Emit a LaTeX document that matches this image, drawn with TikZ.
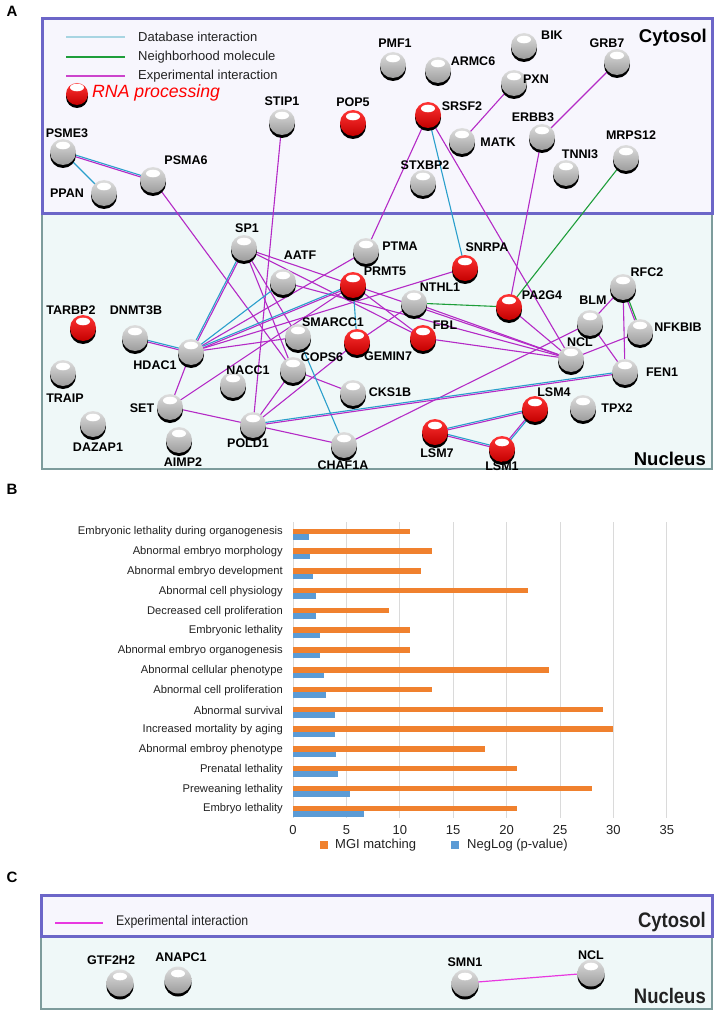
\documentclass[tikz,border=0pt]{standalone}
\usepackage{fontspec}
\setmainfont{Liberation Sans}
\newfontfamily\narrowfont[FakeStretch=0.88]{Liberation Sans}
\usetikzlibrary{shadows,calc,shapes.geometric}
\pgfdeclarelayer{bg}
\pgfdeclarelayer{edges}
\pgfsetlayers{bg,edges,main}
\definecolor{mag}{HTML}{B42AC6}
\definecolor{magL}{HTML}{CC44CC}
\definecolor{magC}{HTML}{E838E0}
\definecolor{dbc}{HTML}{2A9FCC}
\definecolor{dbL}{HTML}{A8D5E2}
\definecolor{grn}{HTML}{1E9E3A}
\definecolor{cytF}{HTML}{F7F6FD}
\definecolor{cytB}{HTML}{6C66C8}
\definecolor{nucF}{HTML}{EFF8F8}
\definecolor{nucB}{HTML}{7D9C9C}
\definecolor{gT}{HTML}{DEDEDE}
\definecolor{gB}{HTML}{9C9C9C}
\definecolor{rT}{HTML}{FF3434}
\definecolor{rB}{HTML}{C40000}
\definecolor{orb}{HTML}{F0812E}
\definecolor{blb}{HTML}{5B9BD5}
\definecolor{grd}{HTML}{DADADA}
\definecolor{txt}{HTML}{222222}
\newcommand\myfs[1]{\fontsize{#1}{#1}\selectfont}
\newcommand\dedge[4]{%
 \draw[#3] ($(#1.center)!0.8pt!90:(#2.center)$) -- ($(#2.center)!0.8pt!-90:(#1.center)$);
 \draw[#4] ($(#1.center)!0.8pt!-90:(#2.center)$) -- ($(#2.center)!0.8pt!90:(#1.center)$);}
\newcommand\pn[6]{\node[#1] (#2) at (#3,#4) {}; \node[lab] (#2-l) at (#5,#6) {#2};}
\tikzset{
 sphbase/.style={inner sep=0pt, drop shadow={shadow xshift=0pt, shadow yshift=-3pt, fill=black, opacity=1}},
 gs/.style={circle, sphbase, minimum size=26pt, top color=gT, bottom color=gB,
   path picture={\fill[white] ([yshift=6.5pt]path picture bounding box.center) ellipse (7pt and 3.8pt);}},
 rs/.style={circle, sphbase, minimum size=26pt, top color=rT, bottom color=rB,
   path picture={\fill[white] ([yshift=6.5pt]path picture bounding box.center) ellipse (7pt and 3.8pt);}},
 gsc/.style={gs, minimum size=27pt},
 lab/.style={font=\myfs{12.5}\bfseries, inner sep=0pt},
 ex/.style={draw=mag, line width=1.1pt},
 db/.style={draw=dbc, line width=1.1pt},
 nb/.style={draw=grn, line width=1.1pt},
 blab/.style={font=\myfs{11.2}, text=txt, inner sep=0pt, anchor=east},
 tick/.style={font=\myfs{13}, text=txt, inner sep=0pt},
 ptitle/.style={font=\myfs{15}\bfseries, inner sep=0pt},
}
\begin{document}
\begin{tikzpicture}[x=1pt,y=-1pt]
\useasboundingbox (0,0) rectangle (718,1011);
\begin{pgfonlayer}{bg}
\fill[white] (0,0) rectangle (718,1011);
\draw[nucB, line width=2.5pt, fill=nucF] (42,214) rectangle (712,469);
\draw[cytB, line width=3pt, fill=cytF] (42,19) rectangle (712,213);
\draw[nucB, line width=2.5pt, fill=nucF] (41,937) rectangle (712,1009);
\draw[cytB, line width=3pt, fill=cytF] (41,895) rectangle (712,936);
\end{pgfonlayer}

% ---------- Panel A ----------
\node[ptitle] (pA) at (12,11) {A};
\node[font=\myfs{18.5}\bfseries, inner sep=0pt, anchor=east] (cyt) at (707,38) {Cytosol};
\node[font=\myfs{18.5}\bfseries, inner sep=0pt, anchor=east] (nuc) at (706,459) {Nucleus};

% legend
\coordinate (lg1a) at (66,37); \coordinate (lg1b) at (125,37);
\coordinate (lg2a) at (66,57); \coordinate (lg2b) at (125,57);
\coordinate (lg3a) at (66,76); \coordinate (lg3b) at (125,76);
\draw[dbL, line width=1.3pt] (lg1a) -- (lg1b);
\draw[grn, line width=1.3pt] (lg2a) -- (lg2b);
\draw[magL, line width=1.3pt] (lg3a) -- (lg3b);
\node[font=\myfs{13}, text=txt, inner sep=0pt, anchor=west] (lgt1) at (138,37) {Database interaction};
\node[font=\myfs{13}, text=txt, inner sep=0pt, anchor=west] (lgt2) at (138,57) {Neighborhood molecule};
\node[font=\myfs{13}, text=txt, inner sep=0pt, anchor=west] (lgt3) at (138,76) {Experimental interaction};
\node[rs, minimum size=22pt] (lgs) at (77,94) {};
\node[font=\myfs{17.7}\itshape, text=red, inner sep=0pt, anchor=west] (lgt4) at (92,93) {RNA processing};

% cytosol nodes
\pn{gs}{PSME3}{63}{152}{67}{133}
\pn{gs}{PPAN}{104}{193}{67}{193}
\pn{gs}{PSMA6}{153}{180}{186}{160}
\pn{gs}{STIP1}{282}{122}{282}{101}
\pn{rs}{POP5}{353}{123}{353}{102}
\pn{rs}{SRSF2}{428}{115}{462}{106}
\pn{gs}{PMF1}{393}{65}{395}{43}
\pn{gs}{ARMC6}{438}{70}{473}{61}
\pn{gs}{BIK}{524}{46}{552}{35}
\pn{gs}{PXN}{514}{83}{536}{79}
\pn{gs}{GRB7}{617}{62}{607}{43}
\pn{gs}{MATK}{462}{141}{498}{142}
\pn{gs}{ERBB3}{542}{137}{533}{117}
\pn{gs}{TNNI3}{566}{173}{580}{154}
\pn{gs}{MRPS12}{626}{158}{631}{135}
\pn{gs}{STXBP2}{423}{183}{425}{165}

% nucleus nodes
\pn{gs}{SP1}{244}{248}{247}{228}
\pn{gs}{AATF}{283}{282}{300}{255}
\pn{gs}{PTMA}{366}{251}{400}{246}
\pn{rs}{PRMT5}{353}{285}{385}{271}
\pn{rs}{SNRPA}{465}{268}{487}{247}
\pn{gs}{NTHL1}{414}{303}{440}{287}
\pn{rs}{PA2G4}{509}{307}{542}{295}
\pn{gs}{SMARCC1}{298}{337}{333}{322}
\pn{rs}{GEMIN7}{357}{342}{388}{356}
\pn{rs}{FBL}{423}{338}{445}{325}
\pn{gs}{BLM}{590}{323}{593}{300}
\pn{gs}{RFC2}{623}{287}{647}{272}
\pn{gs}{NFKBIB}{640}{332}{678}{327}
\pn{gs}{NCL}{571}{359}{580}{342}
\pn{gs}{FEN1}{625}{372}{662}{372}
\pn{gs}{TPX2}{583}{408}{617}{408}
\pn{rs}{LSM4}{535}{409}{554}{392}
\pn{rs}{LSM7}{435}{432}{437}{453}
\pn{rs}{LSM1}{502}{449}{502}{466}
\pn{gs}{CKS1B}{353}{393}{390}{392}
\pn{gs}{CHAF1A}{344}{445}{343}{465}
\pn{gs}{POLD1}{253}{425}{248}{443}
\pn{gs}{COPS6}{293}{370}{322}{357}
\pn{gs}{NACC1}{233}{385}{248}{370}
\pn{gs}{SET}{170}{407}{142}{408}
\pn{gs}{AIMP2}{179}{440}{183}{462}
\pn{gs}{HDAC1}{191}{352}{155}{365}
\pn{gs}{DNMT3B}{135}{338}{136}{310}
\pn{rs}{TARBP2}{83}{328}{71}{310}
\pn{gs}{TRAIP}{63}{373}{65}{398}
\pn{gs}{DAZAP1}{93}{424}{98}{447}

\begin{pgfonlayer}{edges}
\foreach \a/\b in {PSMA6/COPS6, STIP1/POLD1, SRSF2/PTMA, SRSF2/NCL, PXN/MATK, GRB7/ERBB3, ERBB3/PA2G4,
  HDAC1/PTMA, HDAC1/SNRPA, HDAC1/SMARCC1, HDAC1/SET, SP1/PRMT5, SP1/SMARCC1, SP1/COPS6, SP1/FBL,
  AATF/NCL, SET/PRMT5, PRMT5/FBL, PRMT5/NCL, NTHL1/GEMIN7, NTHL1/NCL, FBL/NCL, PA2G4/NCL, NCL/NFKBIB,
  BLM/CHAF1A, BLM/RFC2, BLM/FEN1, RFC2/FEN1, POLD1/SET, POLD1/CHAF1A, POLD1/GEMIN7, COPS6/CKS1B, COPS6/POLD1}
  \draw[ex] (\a.center) -- (\b.center);
\foreach \a/\b in {PSME3/PPAN, SRSF2/SNRPA, HDAC1/AATF, PRMT5/GEMIN7, SMARCC1/CHAF1A}
  \draw[db] (\a.center) -- (\b.center);
\foreach \a/\b in {MRPS12/PA2G4, NTHL1/PA2G4}
  \draw[nb] (\a.center) -- (\b.center);
\dedge{PSME3}{PSMA6}{db}{ex}
\dedge{DNMT3B}{HDAC1}{db}{ex}
\dedge{HDAC1}{SP1}{db}{ex}
\dedge{HDAC1}{PRMT5}{db}{ex}
\dedge{POLD1}{FEN1}{db}{ex}
\dedge{LSM7}{LSM4}{db}{ex}
\dedge{LSM7}{LSM1}{db}{ex}
\dedge{LSM4}{LSM1}{db}{ex}
\dedge{RFC2}{NFKBIB}{nb}{ex}
\end{pgfonlayer}

% ---------- Panel B ----------
\node[ptitle] (pB) at (12,489) {B};
\foreach \t in {0,5,...,35} {
  \draw[grd, line width=0.8pt] ({293+10.68*\t},522) -- ({293+10.68*\t},818);
  \node[tick] (tk\t) at ({293+10.68*\t},830) {\t};
}
\foreach \lab [count=\i from 0] in {Embryonic lethality during organogenesis, Abnormal embryo morphology,
  Abnormal embryo development, Abnormal cell physiology, Decreased cell proliferation, Embryonic lethality,
  Abnormal embryo organogenesis, Abnormal cellular phenotype, Abnormal cell proliferation, Abnormal survival,
  Increased mortality by aging, Abnormal embroy phenotype, Prenatal lethality, Preweaning lethality, Embryo lethality}
  \node[blab] (bl\i) at (283,{532+19.79*\i}) {\lab};
\foreach \o/\b [count=\i from 0] in {11/1.5, 13/1.55, 12/1.85, 22/2.15, 9/2.15, 11/2.55, 11/2.55, 24/2.9,
  13/3.1, 29/3.95, 30/3.95, 18/4.05, 21/4.2, 28/5.35, 21/6.65} {
  \fill[orb] (293,{528.5+19.79*\i}) rectangle ({293+10.68*\o},{534+19.79*\i});
  \fill[blb] (293,{534+19.79*\i}) rectangle ({293+10.68*\b},{539.5+19.79*\i});
}
\fill[orb] (320,841) rectangle (328,849);
\node[font=\myfs{13}, text=txt, inner sep=0pt, anchor=west] (lgB1) at (335,845) {MGI matching};
\fill[blb] (451,841) rectangle (459,849);
\node[font=\myfs{13}, text=txt, inner sep=0pt, anchor=west] (lgB2) at (467,845) {NegLog (p-value)};

% ---------- Panel C ----------
\node[ptitle] (pC) at (12,877) {C};
\coordinate (lgCa) at (55,923); \coordinate (lgCb) at (103,923);
\draw[magC, line width=1.3pt] (lgCa) -- (lgCb);
\node[font=\narrowfont\myfs{14}, text=txt, inner sep=0pt, anchor=west] (lgCt) at (116,922) {Experimental interaction};
\node[font=\narrowfont\myfs{21}\bfseries, text=txt, inner sep=0pt, anchor=east] (cytC) at (706,922) {Cytosol};
\node[font=\narrowfont\myfs{21}\bfseries, text=txt, inner sep=0pt, anchor=east] (nucC) at (706,996) {Nucleus};
\node[gsc] (GTF2H2) at (120,983) {};
\node[lab] (GTF2H2-l) at (111,960) {GTF2H2};
\node[gsc] (ANAPC1) at (178,980) {};
\node[lab] (ANAPC1-l) at (181,957) {ANAPC1};
\node[gsc] (SMN1) at (465,983) {};
\node[lab] (SMN1-l) at (465,962) {SMN1};
\node[gsc] (NCLc) at (591,973) {};
\node[lab] (NCLc-l) at (591,955) {NCL};
\begin{pgfonlayer}{edges}
\draw[draw=magC, line width=1.2pt] (SMN1.center) -- (NCLc.center);
\end{pgfonlayer}
\end{tikzpicture}
\end{document}
